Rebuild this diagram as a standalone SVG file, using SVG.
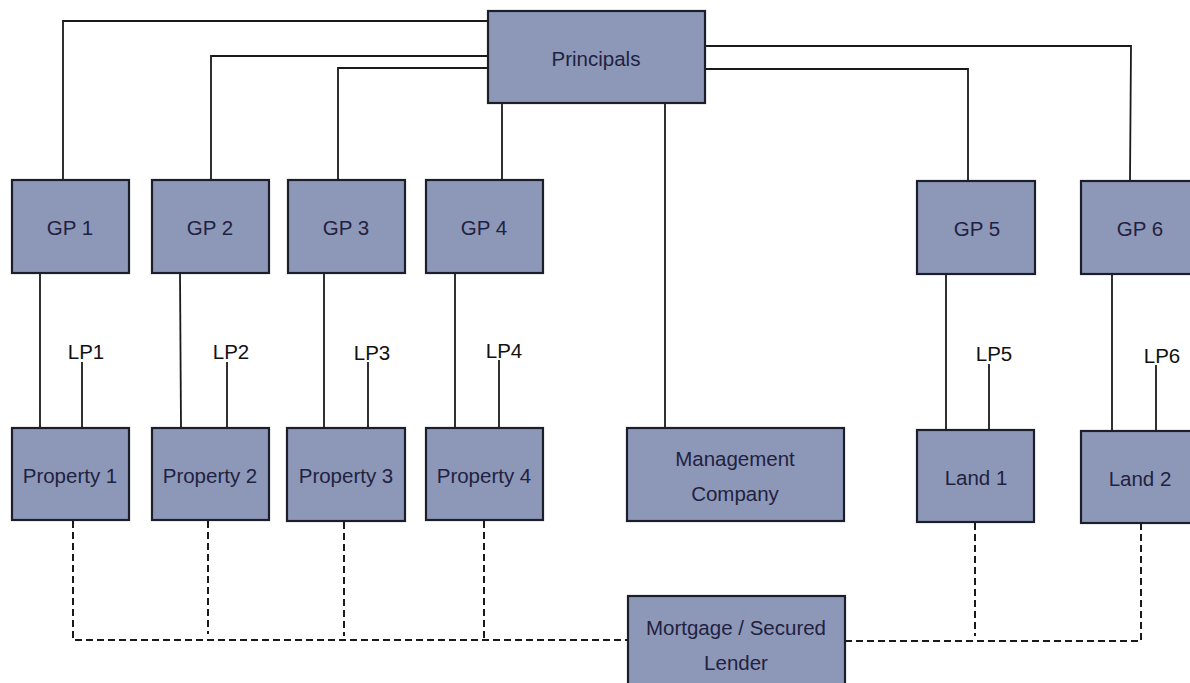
<svg xmlns="http://www.w3.org/2000/svg" width="1190" height="683" viewBox="0 0 1190 683">
<style>
.box{fill:#8d97b8;stroke:#1c1e2c;stroke-width:2.2}
.lbl{font-family:"Liberation Sans",Arial,sans-serif;font-size:20.5px;fill:#1f2240;text-anchor:middle;dominant-baseline:central}
.lp{font-family:"Liberation Sans",Arial,sans-serif;font-size:20.5px;fill:#111;text-anchor:middle;dominant-baseline:central}
.ln{fill:none;stroke:#1a1a1a;stroke-width:1.8}
.dash{fill:none;stroke:#1a1a1a;stroke-width:2;stroke-dasharray:7,4}
</style>
<rect width="1190" height="683" fill="#fff"/>
<g id="connectors">
<path class="ln" d="M63,180 V21 H488"/>
<path class="ln" d="M211,180 V56 H488"/>
<path class="ln" d="M338,180 V68 H488"/>
<path class="ln" d="M502,103 V180"/>
<path class="ln" d="M665,103 V428"/>
<path class="ln" d="M705,69 H968 V181"/>
<path class="ln" d="M705,46 H1131 L1130,181"/>
<path class="ln" d="M40,273 V428"/>
<path class="ln" d="M180,273 L181,428"/>
<path class="ln" d="M324,273 V428"/>
<path class="ln" d="M455,273 V428"/>
<path class="ln" d="M946,274 V430"/>
<path class="ln" d="M1112,274 V431"/>
<path class="ln" d="M82,362 V428"/>
<path class="ln" d="M227,362 V428"/>
<path class="ln" d="M368,362 V428"/>
<path class="ln" d="M499,360 V428"/>
<path class="ln" d="M989,364 V430"/>
<path class="ln" d="M1156,365 V431"/>
<path class="dash" d="M73,521 V640 H628"/>
<path class="dash" d="M208,521 V634"/>
<path class="dash" d="M344,522 V636"/>
<path class="dash" d="M484,521 V638"/>
<path class="dash" d="M845,641 H1141 V523"/>
<path class="dash" d="M975,523 V636"/>
</g>
<g id="principals"><rect class="box" x="488" y="11" width="217" height="92"/><text class="lbl" x="596" y="58">Principals</text></g>
<g id="gp1"><rect class="box" x="12" y="180" width="117" height="93"/><text class="lbl" x="70" y="227">GP 1</text></g>
<g id="gp2"><rect class="box" x="152" y="180" width="117" height="93"/><text class="lbl" x="210" y="227">GP 2</text></g>
<g id="gp3"><rect class="box" x="288" y="180" width="117" height="93"/><text class="lbl" x="346" y="227">GP 3</text></g>
<g id="gp4"><rect class="box" x="426" y="180" width="117" height="93"/><text class="lbl" x="484" y="227">GP 4</text></g>
<g id="gp5"><rect class="box" x="917" y="181" width="118" height="93"/><text class="lbl" x="977" y="228">GP 5</text></g>
<g id="gp6"><rect class="box" x="1081" y="181" width="118" height="93"/><text class="lbl" x="1140" y="228">GP 6</text></g>
<g id="lp-labels">
<text class="lp" x="86" y="351">LP1</text>
<text class="lp" x="231" y="351">LP2</text>
<text class="lp" x="372" y="352">LP3</text>
<text class="lp" x="504" y="350">LP4</text>
<text class="lp" x="994" y="353">LP5</text>
<text class="lp" x="1162" y="355">LP6</text>
</g>
<g id="property1"><rect class="box" x="12" y="428" width="117" height="92"/><text class="lbl" x="70" y="475">Property 1</text></g>
<g id="property2"><rect class="box" x="152" y="428" width="117" height="92"/><text class="lbl" x="210" y="475">Property 2</text></g>
<g id="property3"><rect class="box" x="287" y="428" width="118" height="93"/><text class="lbl" x="346" y="475">Property 3</text></g>
<g id="property4"><rect class="box" x="426" y="428" width="117" height="92"/><text class="lbl" x="484" y="475">Property 4</text></g>
<g id="management"><rect class="box" x="627" y="428" width="217" height="93"/><text class="lbl" x="735" y="458">Management</text><text class="lbl" x="735" y="493">Company</text></g>
<g id="land1"><rect class="box" x="917" y="430" width="117" height="92"/><text class="lbl" x="976" y="477">Land 1</text></g>
<g id="land2"><rect class="box" x="1081" y="431" width="118" height="92"/><text class="lbl" x="1140" y="478">Land 2</text></g>
<g id="lender"><rect class="box" x="628" y="596" width="217" height="100"/><text class="lbl" x="736" y="627">Mortgage / Secured</text><text class="lbl" x="736" y="662">Lender</text></g>
</svg>
